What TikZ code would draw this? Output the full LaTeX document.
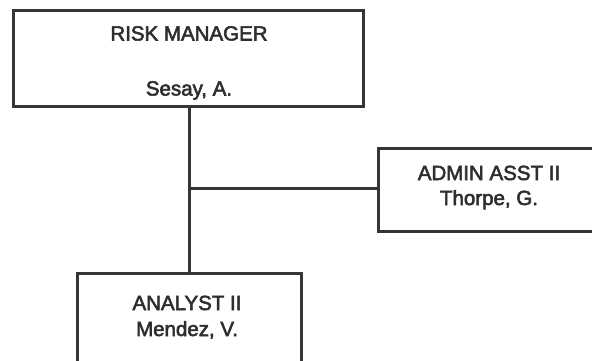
\documentclass[tikz,border=0pt]{standalone}
\usepackage{fontspec}
\setmainfont{Liberation Sans}
\newfontfamily\lblfont{Liberation Sans}[FakeBold=2.6]
\definecolor{ink}{HTML}{353535}
\definecolor{txt}{HTML}{2E2E2E}
\tikzset{
  box/.style={draw=ink, line width=3.4pt, fill=white, rectangle, inner sep=0pt, anchor=north west},
  lbl/.style={text=txt, font=\lblfont\fontsize{20.5}{22}\selectfont, inner sep=0pt, anchor=base},
  conn/.style={draw=ink, line width=3pt}
}
\begin{document}
\begin{tikzpicture}[x=1pt,y=-1pt]
\useasboundingbox (0,0) rectangle (592,361);
\clip (0,0) rectangle (592,361);
\fill[white] (0,0) rectangle (592,361);
\node[box, minimum width=350pt, minimum height=96pt] (mgr) at (12,9) {};
\node[box, minimum width=224pt, minimum height=83pt] (adm) at (377,147) {};
\node[box, minimum width=224pt, minimum height=100pt] (ana) at (76,272) {};
\coordinate (top) at (189,105);
\coordinate (j) at (189,188);
\coordinate (bot) at (189,272);
\draw[conn] (top) -- (bot);
\draw[conn] (j) -- (adm.west |- j);
\node[lbl] (t1) at (189,40.5) {RISK MANAGER};
\node[lbl] (n1) at (189,95.5) {Sesay, A.};
\node[lbl] (t2) at (489,180) {ADMIN ASST II};
\node[lbl] (n2) at (489,205) {Thorpe, G.};
\node[lbl] (t3) at (187,310) {ANALYST II};
\node[lbl] (n3) at (187,336) {Mendez, V.};
\end{tikzpicture}
\end{document}
